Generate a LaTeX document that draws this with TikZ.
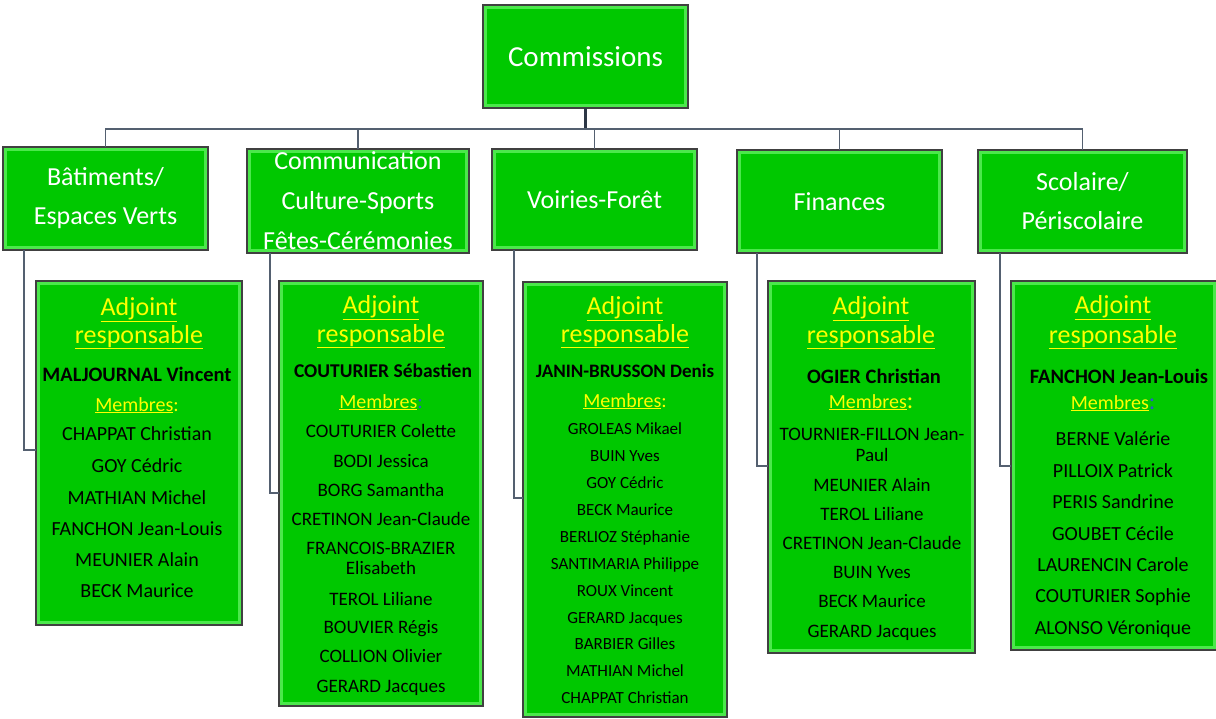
\documentclass[tikz,border=0pt]{standalone}
\usepackage{fontspec}
\setmainfont{Carlito}
\definecolor{fgreen}{RGB}{0,200,0}
\definecolor{lgreen}{RGB}{75,232,75}
\definecolor{bdr}{RGB}{64,64,64}
\definecolor{lnk}{RGB}{84,96,112}
\definecolor{stemc}{RGB}{45,55,70}
\definecolor{ylw}{RGB}{255,255,0}
\definecolor{blu}{RGB}{40,90,200}
\newcommand\fsz[2]{\fontsize{#1}{#2}\selectfont}
\newcommand\ul[1]{\underline{#1}}
\begin{document}
\begin{tikzpicture}[x=1pt,y=-1pt,
  gbox/.style={draw=bdr, line width=1.1pt, fill=lgreen, anchor=north west, inner sep=0pt, outer sep=0pt,
    path picture={\fill[fgreen] ([shift={(4pt,-4pt)}]path picture bounding box.north west) rectangle ([shift={(-4pt,4pt)}]path picture bounding box.south east);}},
  cat/.style={text=white, align=center, inner sep=0pt, font=\fsz{26}{39}},
  adj/.style={text=ylw, anchor=base, inner sep=0pt, font=\fsz{26}{30}},
  boss/.style={anchor=base, inner sep=0pt, font=\bfseries\fsz{#1}{#1}},
  memb/.style={anchor=base, inner sep=0pt, font=\fsz{20}{24}},
  mem/.style={anchor=base, inner sep=0pt, font=\fsz{#1}{#1}},
  conn/.style={draw=lnk, line width=1.6pt},
  stemline/.style={draw=stemc, line width=3pt}
]
\useasboundingbox (0,0) rectangle (1216,718);
\fill[white] (0,0) rectangle (1216,718);

% top and category boxes
\node[gbox, minimum width=205pt, minimum height=103pt] (com) at (483,5) {};
\node[cat, font=\fsz{29}{34}] (comT) at (com.center) {Commissions};
\node[gbox, minimum width=205pt, minimum height=103pt] (bat) at (3,147) {};
\node[cat] (batT) at (bat.center) {Bâtiments/\\Espaces Verts};
\node[gbox, minimum width=222pt, minimum height=104pt] (cmm) at (247,149) {};
\node[cat, font=\fsz{26}{40}] (cmmT) at (cmm.center) {Communication\\Culture-Sports\\Fêtes-Cérémonies};
\node[gbox, minimum width=205pt, minimum height=101pt] (voi) at (492,149) {};
\node[cat] (voiT) at (voi.center) {Voiries-Forêt};
\node[gbox, minimum width=205pt, minimum height=103pt] (fin) at (737,150) {};
\node[cat] (finT) at (fin.center) {Finances};
\node[gbox, minimum width=209pt, minimum height=103pt] (sco) at (978,150) {};
\node[cat] (scoT) at (sco.center) {Scolaire/\\Périscolaire};

% member boxes
\node[gbox, minimum width=206pt, minimum height=344pt] (m1) at (36,281) {};
\node[gbox, minimum width=204pt, minimum height=425pt] (m2) at (279,281) {};
\node[gbox, minimum width=204pt, minimum height=435pt] (m3) at (523,282) {};
\node[gbox, minimum width=207pt, minimum height=372pt] (m4) at (768,281) {};
\node[gbox, minimum width=206pt, minimum height=369pt] (m5) at (1011,281) {};

% connectors
\coordinate (busy) at (0,129);
\draw[stemline] (com.south) -- (com.south |- busy);
\draw[conn] (bat.north) |- (sco.north |- busy) -- (sco.north);
\draw[conn] (cmm.north) -- (cmm.north |- busy);
\draw[conn] (voi.north) -- (voi.north |- busy);
\draw[conn] (fin.north) -- (fin.north |- busy);
\coordinate (s1) at (24,450);
\coordinate (s2) at (270,493);
\coordinate (s3) at (514,498);
\coordinate (s4) at (757,466);
\coordinate (s5) at (1000,466);
\draw[conn] (bat.south -| s1) |- (m1.west |- s1);
\draw[conn] (cmm.south -| s2) |- (m2.west |- s2);
\draw[conn] (voi.south -| s3) |- (m3.west |- s3);
\draw[conn] (fin.south -| s4) |- (m4.west |- s4);
\draw[conn] (sco.south -| s5) |- (m5.west |- s5);

% box 1
\node[adj] (a1a) at (139,315) {\ul{Adjoint}};
\node[adj] (a1b) at (139,343) {\ul{responsable}};
\node[boss=20.5] (a1c) at (137,381) {MALJOURNAL Vincent};
\node[memb] (a1d) at (137,411) {\textcolor{ylw}{\ul{Membres}:}};
\foreach \t/\y [count=\i] in {CHAPPAT Christian/440, GOY Cédric/472, MATHIAN Michel/504, FANCHON Jean-Louis/535, MEUNIER Alain/566, BECK Maurice/597}
  \node[mem=20] (b1\i) at (137,\y) {\t};

% box 2
\node[adj] (a2a) at (381,313) {\ul{Adjoint}};
\node[adj] (a2b) at (381,342) {\ul{responsable}};
\node[boss=19.5] (a2c) at (383,377) {COUTURIER Sébastien};
\node[memb] (a2d) at (381,408) {\textcolor{ylw}{\ul{Membres}}\textcolor{blu}{:}};
\foreach \t/\y [count=\i] in {COUTURIER Colette/437, BODI Jessica/467, BORG Samantha/496, CRETINON Jean-Claude/525, FRANCOIS-BRAZIER/554, Elisabeth/574, TEROL Liliane/605, BOUVIER Régis/633, COLLION Olivier/662, GERARD Jacques/692}
  \node[mem=19] (b2\i) at (381,\y) {\t};

% box 3
\node[adj] (a3a) at (625,314) {\ul{Adjoint}};
\node[adj] (a3b) at (625,342) {\ul{responsable}};
\node[boss=19] (a3c) at (625,377) {JANIN-BRUSSON Denis};
\node[memb] (a3d) at (625,407) {\textcolor{ylw}{\ul{Membres}:}};
\foreach \t/\y [count=\i] in {GROLEAS Mikael/434, BUIN Yves/461, GOY Cédric/488, BECK Maurice/515, BERLIOZ Stéphanie/542, SANTIMARIA Philippe/569, ROUX Vincent/596, GERARD Jacques/623, BARBIER Gilles/649, MATHIAN Michel/676, CHAPPAT Christian/703}
  \node[mem=17] (b3\i) at (625,\y) {\t};

% box 4
\node[adj] (a4a) at (871,314) {\ul{Adjoint}};
\node[adj] (a4b) at (871,343) {\ul{responsable}};
\node[boss=20.5] (a4c) at (874,383) {OGIER Christian};
\node[memb] (a4d) at (871,408) {\textcolor{ylw}{\ul{Membres}\fsz{24}{24}:}};
\foreach \t/\y [count=\i] in {TOURNIER-FILLON Jean-/440, Paul/461, MEUNIER Alain/491, TEROL Liliane/520, CRETINON Jean-Claude/549, BUIN Yves/578, BECK Maurice/607, GERARD Jacques/637}
  \node[mem=19] (b4\i) at (872,\y) {\t};

% box 5
\node[adj] (a5a) at (1113,313) {\ul{Adjoint}};
\node[adj] (a5b) at (1113,343) {\ul{responsable}};
\node[boss=20.5] (a5c) at (1119,383) {FANCHON Jean-Louis};
\node[memb] (a5d) at (1113,409) {\textcolor{ylw}{\ul{Membres}}\textcolor{blu}{\fsz{24}{24}:}};
\foreach \t/\y [count=\i] in {BERNE Valérie/445, PILLOIX Patrick/477, PERIS Sandrine/508, GOUBET Cécile/540, LAURENCIN Carole/571, COUTURIER Sophie/602, ALONSO Véronique/634}
  \node[mem=20] (b5\i) at (1113,\y) {\t};
\end{tikzpicture}
\end{document}
